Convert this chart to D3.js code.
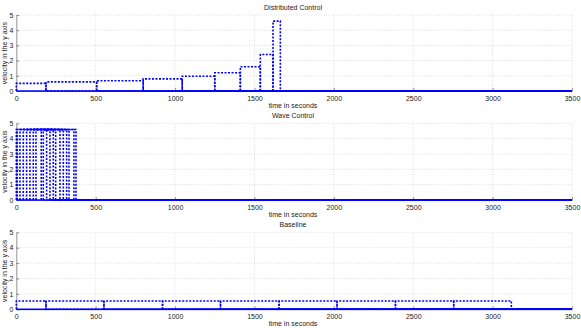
<!DOCTYPE html>
<html><head><meta charset="utf-8">
<script src="https://cdn.jsdelivr.net/npm/d3@7"></script>
<style>body{margin:0;background:#fff}svg{display:block}text{font-family:"Liberation Sans",Arial,sans-serif}</style>
</head><body><svg id="c" width="581" height="328"></svg>
<script>
// Distributed Control: per-vehicle pulse start, end (s) and speed
const distStart = [0, 187, 506, 799, 1045, 1250, 1411, 1537, 1617];
const distEnd   = [187, 506, 799, 1045, 1250, 1411, 1537, 1617, 1663];
const distSpeed = [0.5, 0.6, 0.67, 0.8, 0.97, 1.2, 1.6, 2.4, 4.6];
// Wave Control
const waveStart = [0, 6, 23, 44, 65, 86, 107, 124, 157, 170];
const waveEnd   = [191, 212, 233, 248, 275, 296, 317, 332, 363, 376];
const waveSpeed = [4.6, 4.6, 4.6, 4.6, 4.6, 4.6, 4.6, 4.6, 4.6, 4.6];
// Baseline
const baseStart = [0, 187, 552, 921, 1286, 1655, 2020, 2388, 2755];
const baseEnd   = [187, 552, 921, 1286, 1655, 2020, 2388, 2755, 3118];
const baseSpeed = [0.54, 0.54, 0.54, 0.54, 0.54, 0.54, 0.54, 0.54, 0.54];
// solid zero-velocity segment end (s)
const zeroSolidEnd = [1663, 1530, 3500];
const titles = ["Distributed Control", "Wave Control", "Baseline"];
const xTicks = [0, 500, 1000, 1500, 2000, 2500, 3000, 3500];
const yTicks = [0, 1, 2, 3, 4, 5];

const panels = [
  {title: titles[0], s: distStart, e: distEnd, v: distSpeed, z: zeroSolidEnd[0], top: 15, bot: 91},
  {title: titles[1], s: waveStart, e: waveEnd, v: waveSpeed, z: zeroSolidEnd[1], top: 123.3, bot: 200},
  {title: titles[2], s: baseStart, e: baseEnd, v: baseSpeed, z: zeroSolidEnd[2], top: 232.3, bot: 309.3}
];
const svg = d3.select("#c");
const x = d3.scaleLinear().domain([0, 3500]).range([16.3, 572]);
const fs = 7;
panels.forEach(p => {
  const y = d3.scaleLinear().domain([0, 5]).range([p.bot, p.top]);
  const g = svg.append("g");
  // grid
  g.selectAll(".gx").data(xTicks.slice(1)).join("line")
    .attr("x1", d => x(d)).attr("x2", d => x(d)).attr("y1", p.bot).attr("y2", p.top)
    .attr("stroke", "#c8c8c8").attr("stroke-width", 0.6).attr("stroke-dasharray", "1,1.5");
  g.selectAll(".gy").data(yTicks.slice(1)).join("line")
    .attr("x1", x(0)).attr("x2", x(3500)).attr("y1", d => y(d)).attr("y2", d => y(d))
    .attr("stroke", "#c8c8c8").attr("stroke-width", 0.6).attr("stroke-dasharray", "1,1.5");
  // axes
  const ax = g.append("g").attr("transform", `translate(0,${p.bot})`)
    .call(d3.axisBottom(x).tickValues(xTicks).tickFormat(d3.format("d")).tickSize(-3).tickPadding(5).tickSizeOuter(0));
  const ay = g.append("g").attr("transform", `translate(${x(0)},0)`)
    .call(d3.axisLeft(y).tickValues(yTicks).tickFormat(d3.format("d")).tickSize(-3).tickPadding(3).tickSizeOuter(0));
  [ax, ay].forEach(a => {
    a.select(".domain").attr("stroke", "#777").attr("stroke-width", 0.8);
    a.selectAll(".tick line").attr("stroke", "#777").attr("stroke-width", 0.8);
    a.selectAll("text").attr("font-size", fs).attr("fill", "#222").attr("font-family", "Liberation Sans, Arial, sans-serif");
  });
  // title
  g.append("text").attr("x", 293).attr("y", p.top - 5).attr("text-anchor", "middle")
    .attr("font-size", fs).attr("fill", "#222").text(p.title);
  g.append("text").attr("x", 293).attr("y", p.bot + 17).attr("text-anchor", "middle")
    .attr("font-size", fs).attr("fill", "#222").text("time in seconds");
  g.append("text").attr("transform", `translate(7,${(p.top + p.bot) / 2}) rotate(-90)`)
    .attr("text-anchor", "middle").attr("font-size", fs).attr("fill", "#222").text("velocity in the y axis");
  // series
  const line = d3.line().x(d => x(d[0])).y(d => y(d[1]));
  const lines = g.append("g");
  // solid zero line
  lines.append("path").attr("d", line([[0, 0], [p.z, 0]]))
    .attr("fill", "none").attr("stroke", "#0000ff").attr("stroke-width", 1.6);
  p.s.forEach((s, i) => {
    const pts = [[s, 0], [s, p.v[i]], [p.e[i], p.v[i]], [p.e[i], 0], [3500, 0]];
    lines.append("path").attr("d", line(pts))
      .attr("fill", "none").attr("stroke", "#0000ff").attr("stroke-width", 1.6)
      .attr("stroke-dasharray", "2,1.5");
  });
});
</script></body></html>
